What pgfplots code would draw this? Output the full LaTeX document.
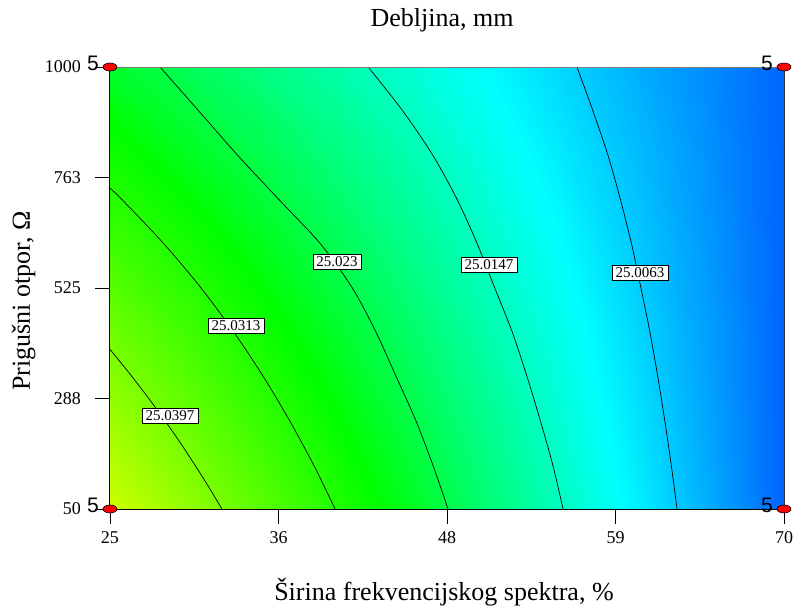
\documentclass[border=0pt]{standalone}
\usepackage{pgfplots}
\pgfplotsset{compat=1.18}
\usepackage{fontspec}
\setmainfont{Liberation Serif}
\newfontfamily\arialf{Liberation Sans}
\begin{document}
\begin{tikzpicture}
\useasboundingbox (-110pt,-99pt) rectangle (685pt,509pt);
\begin{axis}[
  at={(0pt,0pt)}, anchor=south west,
  scale only axis, width=674pt, height=442pt,
  xmin=25, xmax=70, ymin=50, ymax=1000,
  enlargelimits=false,
  xtick={25,36.25,47.5,58.75,70}, xticklabels={25,36,48,59,70},
  ytick={50,287.5,525,762.5,1000}, yticklabels={50,288,525,763,1000},
  tick align=outside, tick pos=left, major tick length=15pt,
  tick style={black, line width=0.8pt},
  ticklabel style={font=\fontsize{18}{18}\selectfont, inner sep=0pt},
  xticklabel style={anchor=north, yshift=-7pt},
  yticklabel style={anchor=east, xshift=-14pt},
  /pgf/number format/assume math mode=true,
  axis line style={draw=none},
  axis on top, clip=false,
  colormap={dx}{rgb255(0pt)=(0,100,255); rgb255(12pt)=(0,255,255); rgb255(30pt)=(0,255,0); rgb255(50pt)=(205,255,0)},
  point meta min=24.998, point meta max=25.048,
  title={Debljina, mm},
  title style={at={(axis description cs:0.4926,1.0792)}, anchor=base, font=\fontsize{26}{30}\selectfont},
  xlabel={Širina frekvencijskog spektra, \%},
  xlabel style={at={(axis description cs:0.4955,-0.2059)}, anchor=base, font=\fontsize{26}{30}\selectfont},
  ylabel={Prigušni otpor, Ω},
  ylabel style={at={(axis description cs:-0.1187,0.4706)}, anchor=base, font=\fontsize{26}{30}\selectfont},
]
\addplot[surf, shader=interp, mesh/cols=10, point meta=explicit] table[x=x, y=y, meta=z] {
x y z
25 50 25.0480
30 50 25.0424
35 50 25.0369
40 50 25.0313
45 50 25.0258
50 50 25.0202
55 50 25.0147
60 50 25.0091
65 50 25.0036
70 50 24.9980
25 240 25.0434
30 240 25.0384
35 240 25.0333
40 240 25.0283
45 240 25.0232
50 240 25.0182
55 240 25.0131
60 240 25.0081
65 240 25.0030
70 240 24.9980
25 430 25.0388
30 430 25.0343
35 430 25.0297
40 430 25.0252
45 430 25.0207
50 430 25.0161
55 430 25.0116
60 430 25.0071
65 430 25.0025
70 430 24.9980
25 620 25.0342
30 620 25.0302
35 620 25.0262
40 620 25.0221
45 620 25.0181
50 620 25.0141
55 620 25.0101
60 620 25.0060
65 620 25.0020
70 620 24.9980
25 810 25.0296
30 810 25.0261
35 810 25.0226
40 810 25.0191
45 810 25.0156
50 810 25.0120
55 810 25.0085
60 810 25.0050
65 810 25.0015
70 810 24.9980
25 1000 25.0250
30 1000 25.0220
35 1000 25.0190
40 1000 25.0160
45 1000 25.0130
50 1000 25.0100
55 1000 25.0070
60 1000 25.0040
65 1000 25.0010
70 1000 24.9980
};
% contour lines
\addplot[black, line width=0.7pt, smooth, mark=none] coordinates {(25,393) (25.75,363.5) (26.46,335) (27.59,287.5) (28.67,240) (29.69,192.5) (30.66,145) (31.59,97.5) (32.47,50)};
\addplot[black, line width=0.7pt, smooth, mark=none] coordinates {(25,739.7) (25.80,715) (28.60,620) (31.08,525) (33.27,430) (35.23,335) (36.99,240) (38.59,145) (40.03,50)};
\addplot[black, line width=0.7pt, smooth, mark=none] coordinates {(28.34,1000) (30.94,905) (33.53,810) (36.28,715) (39.05,620) (41.18,525) (42.76,430) (44.10,335) (45.42,240) (46.55,145) (47.57,50)};
\addplot[black, line width=0.7pt, smooth, mark=none] coordinates {(42.24,1000) (44.56,905) (46.56,810) (48.18,715) (49.52,620) (50.69,525) (51.86,430) (52.84,335) (53.73,240) (54.56,145) (55.25,50)};
\addplot[black, line width=0.7pt, smooth, mark=none] coordinates {(56.18,1000) (57.25,905) (58.25,810) (59.08,715) (59.82,620) (60.45,525) (61.05,430) (61.57,335) (62.04,240) (62.47,145) (62.86,50)};
% contour labels
\tikzset{clab/.style={fill=white, draw=black, line width=0.6pt, inner xsep=3.5pt, inner ysep=2.5pt, font=\fontsize{15}{15}\selectfont}}
\node[clab] at (axis cs:29.01,249.9) {25.0397};
\node[clab] at (axis cs:33.41,443.3) {25.0313};
\node[clab] at (axis cs:40.16,580.9) {25.023};
\node[clab] at (axis cs:50.30,574.4) {25.0147};
\node[clab] at (axis cs:60.39,557.2) {25.0063};
% frame
\draw[black, line width=1pt] (axis description cs:0,1) -- (axis description cs:0,0) -- (axis description cs:1,0);
\draw[color={rgb,255:red,120;green,120;blue,120}, line width=1pt] (axis description cs:0,1) -- (axis description cs:1,1);
\draw[black!80, line width=0.8pt] (axis description cs:1,1) -- (axis description cs:1,0);
% design points
\addplot[only marks, mark=*, mark size=4pt, mark options={xscale=1.75, fill=red, draw=black, line width=0.6pt}] coordinates {(25,50) (70,50) (25,1000) (70,1000)};
\tikzset{fivelab/.style={anchor=base east, inner sep=0pt, font=\arialf\fontsize{21}{21}\selectfont, xshift=-11pt, yshift=-3pt}}
\node[fivelab] at (axis cs:25,1000) {5};
\node[fivelab] at (axis cs:70,1000) {5};
\node[fivelab] at (axis cs:25,50) {5};
\node[fivelab] at (axis cs:70,50) {5};
\end{axis}
\end{tikzpicture}
\end{document}
